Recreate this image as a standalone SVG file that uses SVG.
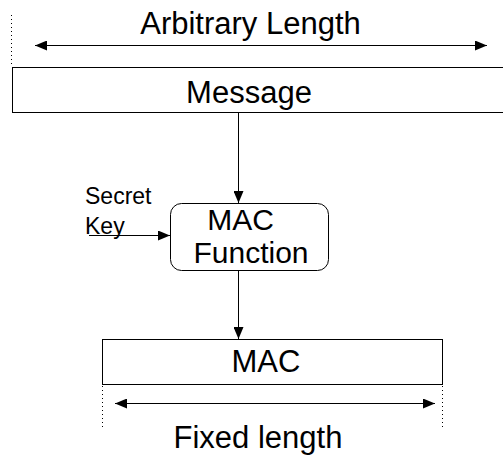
<svg xmlns="http://www.w3.org/2000/svg" width="503" height="457" viewBox="0 0 503 457">
<defs>
<style>
text{font-family:"Liberation Sans",Arial,sans-serif;fill:#000}
.box{fill:#fff;stroke:#000;stroke-width:1}
.ln{stroke:#000;stroke-width:1;fill:none}
.dot{stroke:#000;stroke-width:1;stroke-dasharray:1,3;fill:none}
</style>
<marker id="ah" markerWidth="12" markerHeight="10" refX="12" refY="5" orient="auto-start-reverse" markerUnits="userSpaceOnUse">
<path d="M0,0 L12,5 L0,10 Z" fill="#000"/>
</marker>
</defs>
<g id="message">
<rect class="box" x="12.5" y="67.5" width="500" height="45"/>
<text x="249" y="103" font-size="31" text-anchor="middle">Message</text>
</g>
<g id="arbitrary-length">
<line class="dot" x1="11.5" y1="15" x2="11.5" y2="66"/>
<text x="250.5" y="34" font-size="31" text-anchor="middle">Arbitrary Length</text>
</g>
<g id="mac-function">
<rect class="box" x="170.5" y="203.5" width="158" height="67" rx="11"/>
<text x="240.5" y="230" font-size="30" text-anchor="middle">MAC</text>
<text x="251" y="263" font-size="30" text-anchor="middle">Function</text>
</g>
<g id="secret-key">
<text x="85" y="204" font-size="23">Secret</text>
<text x="85" y="234" font-size="23">Key</text>
</g>
<g id="mac">
<rect class="box" x="102.5" y="339.5" width="340" height="45"/>
<text x="266" y="372" font-size="31" text-anchor="middle">MAC</text>
</g>
<g id="fixed-length">
<line class="dot" x1="102.5" y1="386" x2="102.5" y2="427"/>
<line class="dot" x1="442.5" y1="386" x2="442.5" y2="427"/>
<text x="258" y="448" font-size="31" text-anchor="middle">Fixed length</text>
</g>
<g id="connectors">
<line class="ln" x1="35" y1="45.5" x2="487" y2="45.5" marker-start="url(#ah)" marker-end="url(#ah)"/>
<line class="ln" x1="238.5" y1="113" x2="238.5" y2="203" marker-end="url(#ah)"/>
<line class="ln" x1="89" y1="235.5" x2="170" y2="235.5" marker-end="url(#ah)"/>
<line class="ln" x1="238.5" y1="271" x2="238.5" y2="339" marker-end="url(#ah)"/>
<line class="ln" x1="115" y1="403.5" x2="435" y2="403.5" marker-start="url(#ah)" marker-end="url(#ah)"/>
</g>
</svg>
